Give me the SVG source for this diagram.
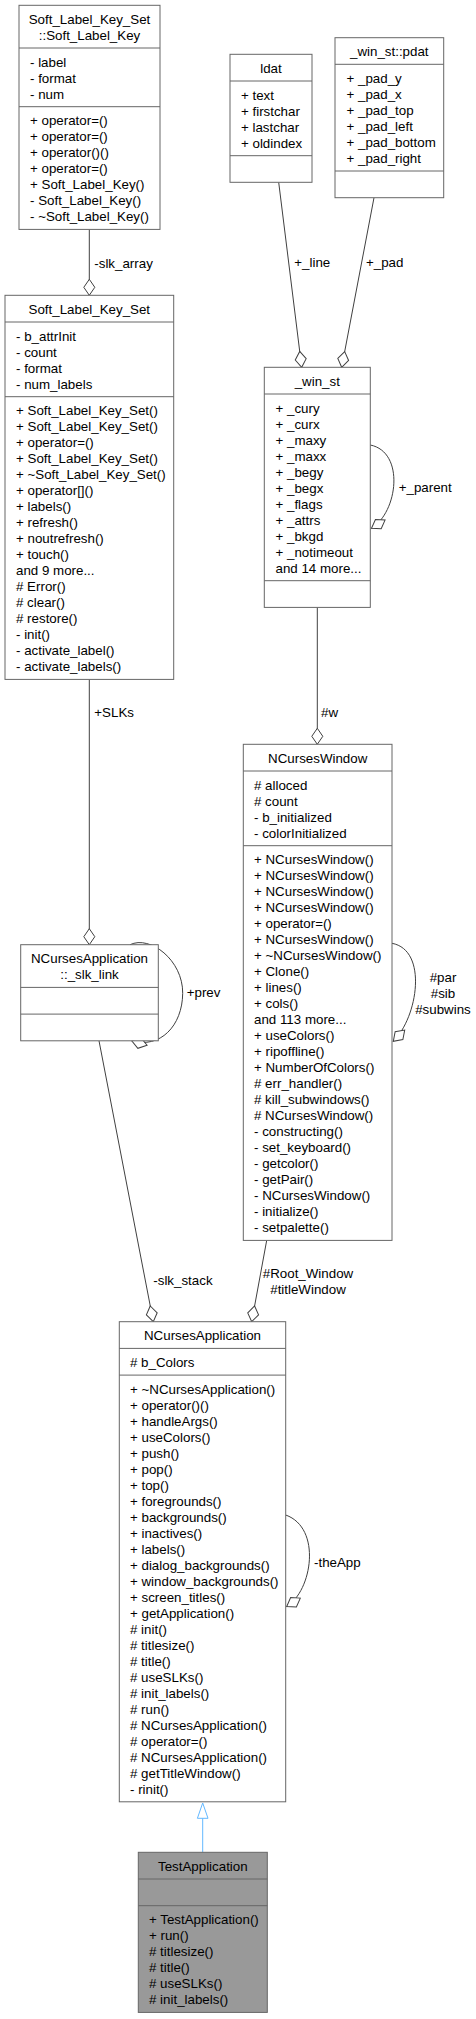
<svg xmlns="http://www.w3.org/2000/svg" width="476" height="2019" viewBox="0 0 476 2019">
<style>
text{font-family:"Liberation Sans",Arial,Helvetica,sans-serif;font-size:13.33px;fill:#000}
.t{text-anchor:middle}
.box{fill:#fff;stroke:#666;stroke-width:1}
.cur{fill:#999;stroke:#666;stroke-width:1}
.div{stroke:#666;stroke-width:1}
.e{fill:none;stroke:#404040;stroke-width:1;marker-end:url(#dia)}
.inh{fill:none;stroke:#63B8FF;stroke-width:1}
</style>
<defs>
<marker id="dia" markerUnits="userSpaceOnUse" markerWidth="20" markerHeight="14" viewBox="-1 -7 18 14" refX="16" refY="0" orient="auto">
<path d="M0,0 L8,-5.5 L16,0 L8,5.5 Z" fill="#fff" stroke="#404040" stroke-width="1"/>
</marker>
</defs>
<g id="connectors">
<path class="e" d="M89.3,229.4 V295.3"/>
<path class="e" d="M278.7,182.3 L301.7,367.3"/>
<path class="e" d="M374,197.7 L341.7,367.3"/>
<path class="e" d="M370.3,445 C405,452 398,512 371.5,528.3"/>
<path class="e" d="M317.3,607.4 V744.3"/>
<path class="e" d="M392,943.3 C428,950 418,1017 393.3,1041.3"/>
<path class="e" d="M89.3,679.4 V944.7"/>
<path class="e" d="M130,944.7 C150,935 183,960 182.7,993.3 C182.4,1026 160,1049 131.7,1040.8"/>
<path class="e" d="M99,1040.8 L153.3,1321.7"/>
<path class="e" d="M266.7,1240.4 L251.7,1321.7"/>
<path class="e" d="M285.7,1515 C322,1528 312.2,1590.8 286.7,1606.5"/>
<path class="inh" d="M202.7,1852.3 V1818.3"/>
<polygon class="inh" fill="#fff" points="202.7,1803 197.4,1818.3 208,1818.3"/>
<text x="94.3" y="267.7">-slk_array</text>
<text x="294.3" y="266.7">+_line</text>
<text x="366" y="266.7">+_pad</text>
<text x="398.7" y="491.7">+_parent</text>
<text x="321" y="716.7">#w</text>
<text x="94.3" y="717">+SLKs</text>
<text class="t" x="443" y="982">#par</text>
<text class="t" x="443" y="998">#sib</text>
<text class="t" x="443" y="1014">#subwins</text>
<text x="186.7" y="996.7">+prev</text>
<text x="153.3" y="1285">-slk_stack</text>
<text class="t" x="308" y="1278">#Root_Window</text>
<text class="t" x="308" y="1294">#titleWindow</text>
<text x="314" y="1567">-theApp</text>
</g>
<g id="Soft_Label_Key">
<rect class="box" x="19" y="5.3" width="141" height="224.1"/>
<line class="div" x1="19" y1="48" x2="160" y2="48"/>
<line class="div" x1="19" y1="106.7" x2="160" y2="106.7"/>
<text class="t" x="89.5" y="24">Soft_Label_Key_Set</text>
<text class="t" x="89.5" y="40">::Soft_Label_Key</text>
<text x="30" y="66.7"><tspan x="30">- label</tspan><tspan x="30" dy="16">- format</tspan><tspan x="30" dy="16">- num</tspan></text>
<text x="30" y="125.4"><tspan x="30">+ operator=()</tspan><tspan x="30" dy="16">+ operator=()</tspan><tspan x="30" dy="16">+ operator()()</tspan><tspan x="30" dy="16">+ operator=()</tspan><tspan x="30" dy="16">+ Soft_Label_Key()</tspan><tspan x="30" dy="16">- Soft_Label_Key()</tspan><tspan x="30" dy="16">- ~Soft_Label_Key()</tspan></text>
</g>
<g id="ldat">
<rect class="box" x="230" y="54.3" width="82" height="128"/>
<line class="div" x1="230" y1="81" x2="312" y2="81"/>
<line class="div" x1="230" y1="155.7" x2="312" y2="155.7"/>
<text class="t" x="271" y="73">ldat</text>
<text x="241" y="99.7"><tspan x="241">+ text</tspan><tspan x="241" dy="16">+ firstchar</tspan><tspan x="241" dy="16">+ lastchar</tspan><tspan x="241" dy="16">+ oldindex</tspan></text>
</g>
<g id="pdat">
<rect class="box" x="335" y="37.7" width="108.7" height="160"/>
<line class="div" x1="335" y1="64.3" x2="443.7" y2="64.3"/>
<line class="div" x1="335" y1="171" x2="443.7" y2="171"/>
<text class="t" x="389.3" y="56.4">_win_st::pdat</text>
<text x="346.5" y="83"><tspan x="346.5">+ _pad_y</tspan><tspan x="346.5" dy="16">+ _pad_x</tspan><tspan x="346.5" dy="16">+ _pad_top</tspan><tspan x="346.5" dy="16">+ _pad_left</tspan><tspan x="346.5" dy="16">+ _pad_bottom</tspan><tspan x="346.5" dy="16">+ _pad_right</tspan></text>
</g>
<g id="Soft_Label_Key_Set">
<rect class="box" x="5" y="295.3" width="168.7" height="384.1"/>
<line class="div" x1="5" y1="322" x2="173.7" y2="322"/>
<line class="div" x1="5" y1="396.7" x2="173.7" y2="396.7"/>
<text class="t" x="89.3" y="314">Soft_Label_Key_Set</text>
<text x="16" y="340.7"><tspan x="16">- b_attrInit</tspan><tspan x="16" dy="16">- count</tspan><tspan x="16" dy="16">- format</tspan><tspan x="16" dy="16">- num_labels</tspan></text>
<text x="16" y="415.4"><tspan x="16">+ Soft_Label_Key_Set()</tspan><tspan x="16" dy="16">+ Soft_Label_Key_Set()</tspan><tspan x="16" dy="16">+ operator=()</tspan><tspan x="16" dy="16">+ Soft_Label_Key_Set()</tspan><tspan x="16" dy="16">+ ~Soft_Label_Key_Set()</tspan><tspan x="16" dy="16">+ operator[]()</tspan><tspan x="16" dy="16">+ labels()</tspan><tspan x="16" dy="16">+ refresh()</tspan><tspan x="16" dy="16">+ noutrefresh()</tspan><tspan x="16" dy="16">+ touch()</tspan><tspan x="16" dy="16">and 9 more...</tspan><tspan x="16" dy="16"># Error()</tspan><tspan x="16" dy="16"># clear()</tspan><tspan x="16" dy="16"># restore()</tspan><tspan x="16" dy="16">- init()</tspan><tspan x="16" dy="16">- activate_label()</tspan><tspan x="16" dy="16">- activate_labels()</tspan></text>
</g>
<g id="win_st">
<rect class="box" x="264.3" y="367.3" width="106" height="240.1"/>
<line class="div" x1="264.3" y1="394" x2="370.3" y2="394"/>
<line class="div" x1="264.3" y1="580.7" x2="370.3" y2="580.7"/>
<text class="t" x="317.3" y="386">_win_st</text>
<text x="275.5" y="412.7"><tspan x="275.5">+ _cury</tspan><tspan x="275.5" dy="16">+ _curx</tspan><tspan x="275.5" dy="16">+ _maxy</tspan><tspan x="275.5" dy="16">+ _maxx</tspan><tspan x="275.5" dy="16">+ _begy</tspan><tspan x="275.5" dy="16">+ _begx</tspan><tspan x="275.5" dy="16">+ _flags</tspan><tspan x="275.5" dy="16">+ _attrs</tspan><tspan x="275.5" dy="16">+ _bkgd</tspan><tspan x="275.5" dy="16">+ _notimeout</tspan><tspan x="275.5" dy="16">and 14 more...</tspan></text>
</g>
<g id="NCursesWindow">
<rect class="box" x="243.3" y="744.3" width="148.7" height="496.1"/>
<line class="div" x1="243.3" y1="771" x2="392" y2="771"/>
<line class="div" x1="243.3" y1="845.7" x2="392" y2="845.7"/>
<text class="t" x="317.7" y="763">NCursesWindow</text>
<text x="254" y="789.7"><tspan x="254"># alloced</tspan><tspan x="254" dy="16"># count</tspan><tspan x="254" dy="16">- b_initialized</tspan><tspan x="254" dy="16">- colorInitialized</tspan></text>
<text x="254" y="864.4"><tspan x="254">+ NCursesWindow()</tspan><tspan x="254" dy="16">+ NCursesWindow()</tspan><tspan x="254" dy="16">+ NCursesWindow()</tspan><tspan x="254" dy="16">+ NCursesWindow()</tspan><tspan x="254" dy="16">+ operator=()</tspan><tspan x="254" dy="16">+ NCursesWindow()</tspan><tspan x="254" dy="16">+ ~NCursesWindow()</tspan><tspan x="254" dy="16">+ Clone()</tspan><tspan x="254" dy="16">+ lines()</tspan><tspan x="254" dy="16">+ cols()</tspan><tspan x="254" dy="16">and 113 more...</tspan><tspan x="254" dy="16">+ useColors()</tspan><tspan x="254" dy="16">+ ripoffline()</tspan><tspan x="254" dy="16">+ NumberOfColors()</tspan><tspan x="254" dy="16"># err_handler()</tspan><tspan x="254" dy="16"># kill_subwindows()</tspan><tspan x="254" dy="16"># NCursesWindow()</tspan><tspan x="254" dy="16">- constructing()</tspan><tspan x="254" dy="16">- set_keyboard()</tspan><tspan x="254" dy="16">- getcolor()</tspan><tspan x="254" dy="16">- getPair()</tspan><tspan x="254" dy="16">- NCursesWindow()</tspan><tspan x="254" dy="16">- initialize()</tspan><tspan x="254" dy="16">- setpalette()</tspan></text>
</g>
<g id="slk_link">
<rect class="box" x="20.7" y="944.7" width="137.6" height="96.1"/>
<line class="div" x1="20.7" y1="987.4" x2="158.3" y2="987.4"/>
<line class="div" x1="20.7" y1="1014.1" x2="158.3" y2="1014.1"/>
<text class="t" x="89.5" y="963.4">NCursesApplication</text>
<text class="t" x="89.5" y="979.4">::_slk_link</text>
</g>
<g id="NCursesApplication">
<rect class="box" x="119.3" y="1321.7" width="166.4" height="480.1"/>
<line class="div" x1="119.3" y1="1348.4" x2="285.7" y2="1348.4"/>
<line class="div" x1="119.3" y1="1375.1" x2="285.7" y2="1375.1"/>
<text class="t" x="202.5" y="1340.4">NCursesApplication</text>
<text x="130" y="1367.1"># b_Colors</text>
<text x="130" y="1393.8"><tspan x="130">+ ~NCursesApplication()</tspan><tspan x="130" dy="16">+ operator()()</tspan><tspan x="130" dy="16">+ handleArgs()</tspan><tspan x="130" dy="16">+ useColors()</tspan><tspan x="130" dy="16">+ push()</tspan><tspan x="130" dy="16">+ pop()</tspan><tspan x="130" dy="16">+ top()</tspan><tspan x="130" dy="16">+ foregrounds()</tspan><tspan x="130" dy="16">+ backgrounds()</tspan><tspan x="130" dy="16">+ inactives()</tspan><tspan x="130" dy="16">+ labels()</tspan><tspan x="130" dy="16">+ dialog_backgrounds()</tspan><tspan x="130" dy="16">+ window_backgrounds()</tspan><tspan x="130" dy="16">+ screen_titles()</tspan><tspan x="130" dy="16">+ getApplication()</tspan><tspan x="130" dy="16"># init()</tspan><tspan x="130" dy="16"># titlesize()</tspan><tspan x="130" dy="16"># title()</tspan><tspan x="130" dy="16"># useSLKs()</tspan><tspan x="130" dy="16"># init_labels()</tspan><tspan x="130" dy="16"># run()</tspan><tspan x="130" dy="16"># NCursesApplication()</tspan><tspan x="130" dy="16"># operator=()</tspan><tspan x="130" dy="16"># NCursesApplication()</tspan><tspan x="130" dy="16"># getTitleWindow()</tspan><tspan x="130" dy="16">- rinit()</tspan></text>
</g>
<g id="TestApplication">
<rect class="cur" x="138.3" y="1852.3" width="129" height="160.1"/>
<line class="div" x1="138.3" y1="1879" x2="267.3" y2="1879"/>
<line class="div" x1="138.3" y1="1905.7" x2="267.3" y2="1905.7"/>
<text class="t" x="202.8" y="1871">TestApplication</text>
<text x="149" y="1924.4"><tspan x="149">+ TestApplication()</tspan><tspan x="149" dy="16">+ run()</tspan><tspan x="149" dy="16"># titlesize()</tspan><tspan x="149" dy="16"># title()</tspan><tspan x="149" dy="16"># useSLKs()</tspan><tspan x="149" dy="16"># init_labels()</tspan></text>
</g>
</svg>
